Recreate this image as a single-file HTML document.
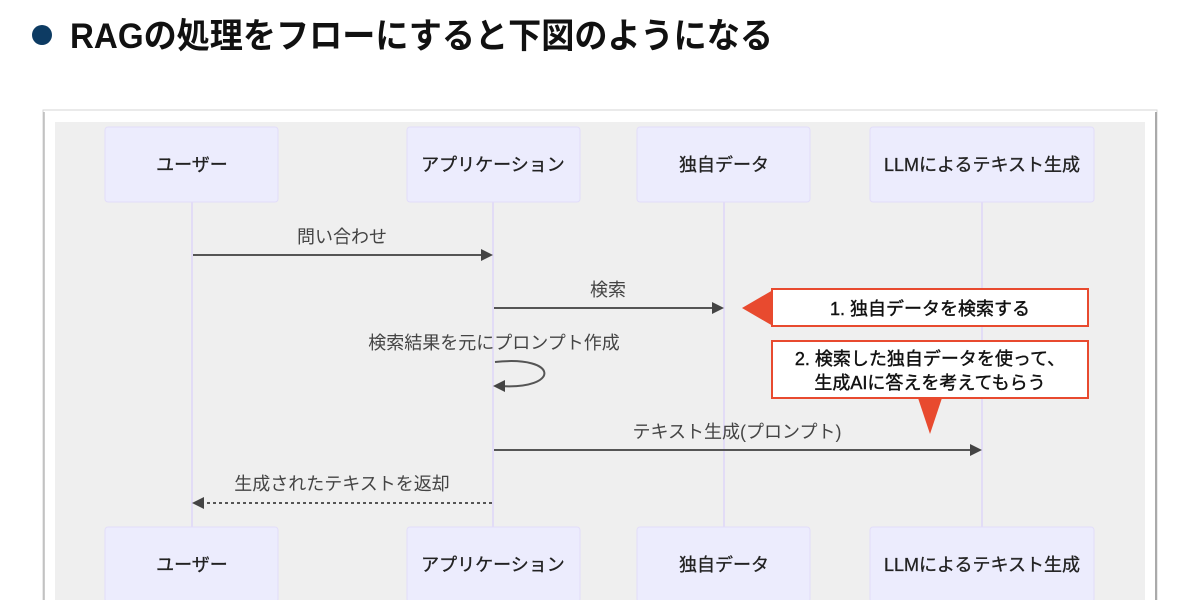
<!DOCTYPE html>
<html><head><meta charset="utf-8"><style>
html,body{margin:0;padding:0;background:#fff;width:1200px;height:600px;overflow:hidden}
</style></head><body>
<svg width="1200" height="600" xmlns="http://www.w3.org/2000/svg" font-family="'Liberation Sans','Noto Sans CJK JP',sans-serif">
<circle cx="42" cy="35" r="10" fill="#0d3b63"/>
<text x="70" y="48" font-size="35" font-weight="bold" fill="#111" textLength="703" lengthAdjust="spacingAndGlyphs">RAGの処理をフローにすると下図のようになる</text>
<rect x="43" y="110" width="1114" height="500" fill="#fff" stroke="#d6d6d6"/>
<line x1="1156" y1="112" x2="1156" y2="600" stroke="#aaa" stroke-width="2"/>
<line x1="44" y1="112" x2="44" y2="600" stroke="#bbb" stroke-width="1.5"/>
<rect x="55" y="122" width="1090" height="490" fill="#efefef"/>
<g stroke="#ddd6f8" stroke-width="1.5">
<line x1="192" y1="202" x2="192" y2="528"/><line x1="493" y1="202" x2="493" y2="528"/>
<line x1="724" y1="202" x2="724" y2="528"/><line x1="982" y1="202" x2="982" y2="528"/>
</g>
<g fill="#ececfd" stroke="#e2ddf9">
<rect x="105" y="127" width="173" height="75" rx="3"/><rect x="407" y="127" width="173" height="75" rx="3"/>
<rect x="637" y="127" width="173" height="75" rx="3"/><rect x="870" y="127" width="224" height="75" rx="3"/>
<rect x="105" y="527" width="173" height="75" rx="3"/><rect x="407" y="527" width="173" height="75" rx="3"/>
<rect x="637" y="527" width="173" height="75" rx="3"/><rect x="870" y="527" width="224" height="75" rx="3"/>
</g>
<g font-size="18" fill="#222" stroke="#222" stroke-width="0.3" text-anchor="middle">
<text x="192" y="171">ユーザー</text><text x="493" y="171">アプリケーション</text>
<text x="724" y="171">独自データ</text><text x="982" y="171">LLMによるテキスト生成</text>
<text x="192" y="571">ユーザー</text><text x="493" y="571">アプリケーション</text>
<text x="724" y="571">独自データ</text><text x="982" y="571">LLMによるテキスト生成</text>
</g>
<g font-size="18" fill="#444" text-anchor="middle">
<text x="342" y="243">問い合わせ</text>
<text x="608" y="296">検索</text>
<text x="494" y="349">検索結果を元にプロンプト作成</text>
<text x="737" y="438">テキスト生成(プロンプト)</text>
<text x="342" y="490">生成されたテキストを返却</text>
</g>
<g stroke="#555" stroke-width="2" fill="none">
<line x1="193" y1="255" x2="482" y2="255"/>
<line x1="494" y1="308" x2="712" y2="308"/>
<path d="M495 362 C 560 355, 560 390, 500 386"/>
<line x1="494" y1="450" x2="970" y2="450"/>
<line x1="492" y1="503" x2="204" y2="503" stroke-dasharray="3,3"/>
</g>
<g fill="#444">
<polygon points="493,255 481,249 481,261"/>
<polygon points="724,308 712,302 712,314"/>
<polygon points="493,386 505,380 505,392"/>
<polygon points="982,450 970,444 970,456"/>
<polygon points="192,503 204,497 204,509"/>
</g>
<polygon points="742,308 773,290 773,326" fill="#e84a2f"/>
<polygon points="918,398 942,398 930,434" fill="#e84a2f"/>
<rect x="772" y="289" width="316" height="37" fill="#fff" stroke="#e84a2f" stroke-width="2"/>
<rect x="772" y="341" width="316" height="57" fill="#fff" stroke="#e84a2f" stroke-width="2"/>
<g font-size="18" fill="#111" stroke="#111" stroke-width="0.4" text-anchor="middle">
<text x="930" y="315">1. 独自データを検索する</text>
<text x="930" y="365">2. 検索した独自データを使って、</text>
<text x="930" y="389">生成AIに答えを考えてもらう</text>
</g>
</svg>
</body></html>
